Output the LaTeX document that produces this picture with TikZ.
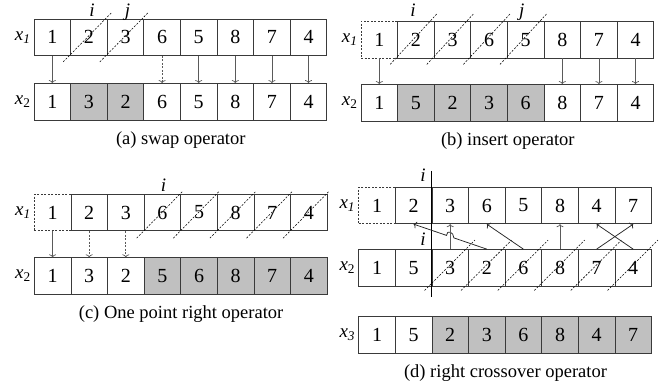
\documentclass[tikz,border=0pt]{standalone}
\usepackage{fontspec}
\setmainfont{Liberation Serif}
\usepackage{tikz}
\usetikzlibrary{arrows.meta,positioning,calc}
\definecolor{Cell}{HTML}{C0C0C0}
\definecolor{Edge}{HTML}{3A3A3A}
\definecolor{Flow}{HTML}{5A5A5A}
\tikzset{
  cellnode/.style={draw=Edge, line width=0.8pt, minimum width=36.6pt, minimum height=36.5pt, inner sep=0pt, font=\fontsize{20}{22}\selectfont},
  dashcell/.style={cellnode, dash pattern=on 2pt off 1.5pt},
  rowlabel/.style={inner sep=0pt, font=\fontsize{19}{21}\selectfont},
  idxlabel/.style={inner sep=0pt, anchor=base, font=\fontsize{19}{21}\selectfont\itshape},
  caption/.style={inner sep=0pt, font=\fontsize{18.5}{20}\selectfont},
  slash/.style={line width=0.55pt, draw=black, dash pattern=on 2pt off 1.5pt},
  downarrow/.style={-{To[length=3pt,width=7pt]}, line width=0.7pt, draw=Flow},
  dasharrow/.style={downarrow, dash pattern=on 2pt off 1.5pt},
  uparrow/.style={-{To[length=3pt,width=7pt]}, line width=0.75pt, draw=black!85},
  cutline/.style={line width=1.4pt, draw=black},
}
\newcommand{\xone}{\textit{x}\textsubscript{\textit{1}}}
\newcommand{\xtwo}{\textit{x}\textsubscript{2}}
\newcommand{\xthree}{\textit{x}\textsubscript{\textit{3}}}

\begin{document}
\begin{tikzpicture}[x=1pt,y=1pt]
\useasboundingbox (0,0) rectangle (659,385);

% (a) swap operator
\foreach \v [count=\k] in {1,2,3,6,5,8,7,4}
  \node[cellnode] (a1-\k) at ({52.3+36.6*(\k-1)},347.75) {\v};
\foreach \v/\f [count=\k] in {1/white,3/Cell,2/Cell,6/white,5/white,8/white,7/white,4/white}
  \node[cellnode,fill=\f] (a2-\k) at ({52.3+36.6*(\k-1)},283.25) {\v};
\node[rowlabel,left=3pt of a1-1] (a1) {\xone};
\node[rowlabel,left=3pt of a2-1] (a2) {\xtwo};
\foreach \k in {2,3}
  \draw[slash] ($(a1-\k.south west)+(-7,-6)$) -- ($(a1-\k.north east)+(4,6)$);
\node[idxlabel] (ai) at ($(a1-2.north)+(3,2.3)$) {i};
\node[idxlabel] (aj) at ($(a1-3.north)+(2,2.3)$) {j};
\foreach \k in {1,5,6,7,8}
  \draw[downarrow] (a1-\k) -- (a2-\k);
\draw[dasharrow] (a1-4) -- (a2-4);
\node[caption,below=11pt of a2-4.south east] (capa) {(a) swap operator};

% (b) insert operator
\node[dashcell] (b1-1) at (379.3,345.25) {1};
\foreach \v [count=\k from 2] in {2,3,6,5,8,7,4}
  \node[cellnode] (b1-\k) at ({379.3+36.6*(\k-1)},345.25) {\v};
\foreach \v/\f [count=\k] in {1/white,5/Cell,2/Cell,3/Cell,6/Cell,8/white,7/white,4/white}
  \node[cellnode,fill=\f] (b2-\k) at ({379.3+36.6*(\k-1)},282.25) {\v};
\node[rowlabel,left=3pt of b1-1] (b1) {\xone};
\node[rowlabel,left=3pt of b2-1] (b2) {\xtwo};
\foreach \k in {2,...,5}
  \draw[slash] ($(b1-\k.south west)+(-7,-6)$) -- ($(b1-\k.north east)+(3,8)$);
\node[idxlabel] (bi) at ($(b1-2.north)+(-3,5)$) {i};
\node[idxlabel] (bj) at ($(b1-5.north)+(-4,5)$) {j};
\foreach \k in {1,6,7,8}
  \draw[downarrow] (b1-\k) -- (b2-\k);
\node[caption,below=11pt of b2-4.south east] (capb) {(b) insert operator};

% (c) one point right operator
\node[dashcell] (c1-1) at (52.6,172.5) {1};
\foreach \v [count=\k from 2] in {2,3,6,5,8,7,4}
  \node[cellnode] (c1-\k) at ({52.6+36.6*(\k-1)},172.5) {\v};
\foreach \v/\f [count=\k] in {1/white,3/white,2/white,5/Cell,6/Cell,8/Cell,7/Cell,4/Cell}
  \node[cellnode,fill=\f] (c2-\k) at ({52.6+36.6*(\k-1)},109) {\v};
\node[rowlabel,left=3pt of c1-1] (c1) {\xone};
\node[rowlabel,left=3pt of c2-1] (c2) {\xtwo};
\foreach \k in {4,...,8}
  \draw[slash] ($(c1-\k.south west)+(-7,-7)$) -- ($(c1-\k.north east)+(1,2)$);
\node[idxlabel] (ci) at ($(c1-4.north)+(1,2.5)$) {i};
\draw[downarrow] (c1-1) -- (c2-1);
\foreach \k in {2,3}
  \draw[dasharrow] (c1-\k) -- (c2-\k);
\node[caption,below=11pt of c2-4.south east] (capc) {(c) One point right operator};

% (d) right crossover operator
\node[dashcell] (d1-1) at (377,179.5) {1};
\foreach \v [count=\k from 2] in {2,3,6,5,8,4,7}
  \node[cellnode] (d1-\k) at ({377+36.6*(\k-1)},179.5) {\v};
\foreach \v [count=\k] in {1,5,3,2,6,8,7,4}
  \node[cellnode] (d2-\k) at ({377+36.6*(\k-1)},117.2) {\v};
\foreach \v/\f [count=\k] in {1/white,5/white,2/Cell,3/Cell,6/Cell,8/Cell,4/Cell,7/Cell}
  \node[cellnode,fill=\f] (d3-\k) at ({377+36.6*(\k-1)},50) {\v};
\node[rowlabel,left=3pt of d1-1] (d1) {\xone};
\node[rowlabel,left=3pt of d2-1] (d2) {\xtwo};
\node[rowlabel,left=3pt of d3-1] (d3) {\xthree};
\foreach \k in {3,...,8}
  \draw[slash] ($(d2-\k.south west)+(-7,-4)$) -- ($(d2-\k.north east)+(6,9)$);
\coordinate (cuttop) at ($(d1-3.north west)+(0,16)$);
\coordinate (cutbot) at ($(d2-3.south west)+(0,-11)$);
\draw[cutline] (cuttop) -- (cutbot);
\node[idxlabel] (di) at ($(d1-3.north west)+(-8.6,5)$) {i};
\node[idxlabel] (di2) at ($(d2-3.north west)+(-8.6,3.3)$) {i};
% moves from x2 back to x1
\draw[uparrow] (d2-4.north) -- ($(d2-4.north)!0.45!(d1-2.south)$)
  .. controls +(0,6) and +(0,6) .. ($(d2-4.north)!0.55!(d1-2.south)$) -- (d1-2.south);
\draw[uparrow,draw=Flow] (d2-3) -- (d1-3);
\draw[uparrow] (d2-5.north) -- (d1-4.south);
\draw[uparrow,draw=Flow] (d2-6) -- (d1-6);
\draw[uparrow] (d2-7.north) -- (d1-8.south);
\draw[uparrow] (d2-8.north) -- (d1-7.south);
\node[caption,below=11pt of d3-4.south east] (capd) {(d) right crossover operator};
\end{tikzpicture}
\end{document}
